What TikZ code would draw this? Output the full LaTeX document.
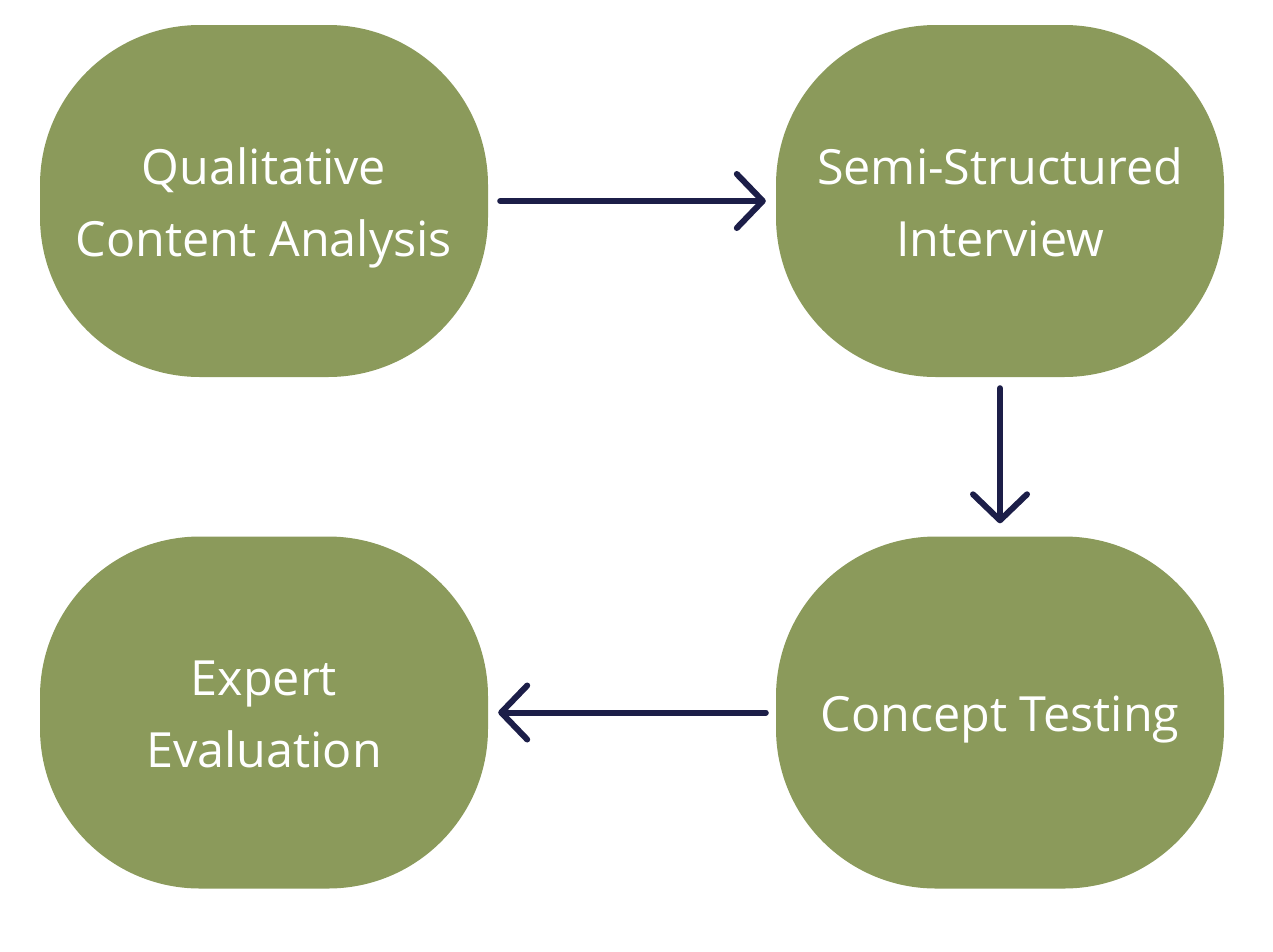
\documentclass[tikz,border=0pt]{standalone}
\usepackage{fontspec}
\setmainfont{Open Sans}
\usetikzlibrary{arrows.meta,positioning}
\definecolor{olivebox}{HTML}{8B9A5B}
\definecolor{navyline}{HTML}{1C1E48}
\newcommand\phasetext[1]{\raisebox{-5pt}[\height][\depth]{\begin{tabular}{@{}c@{}}#1\end{tabular}}}

\begin{document}
\begin{tikzpicture}
[x=1pt,y=-1pt,
 phase/.style={rectangle,rounded corners=160pt,fill=olivebox,draw=none,
    minimum width=448pt,minimum height=352pt,inner sep=0pt,
    text=white,font=\fontsize{48.5}{72}\selectfont},
 flow/.style={draw=navyline,line width=6pt,line cap=round,
    -{Straight Barb[length=26pt,width=54pt,round]}}]
\useasboundingbox (0,0) rectangle (1273,951);

\node[phase] (qca) at (264,201) {\phasetext{Qualitative\\Content Analysis}};
\node[phase] (ssi) at (1000,201) {\phasetext{Semi-Structured\\Interview}};
\node[phase] (ct) at (1000,712.5) {\phasetext{Concept Testing}};
\node[phase] (ee) at (264,712.5) {\phasetext{Expert\\Evaluation}};

\draw [flow] ([xshift=12pt]qca.east) -- ([xshift=-10pt]ssi.west);
\draw [flow] ([yshift=-11pt]ssi.south) -- ([yshift=13pt]ct.north);
\draw [flow] ([xshift=-10pt]ct.west) -- ([xshift=10pt]ee.east);
\end{tikzpicture}
\end{document}
